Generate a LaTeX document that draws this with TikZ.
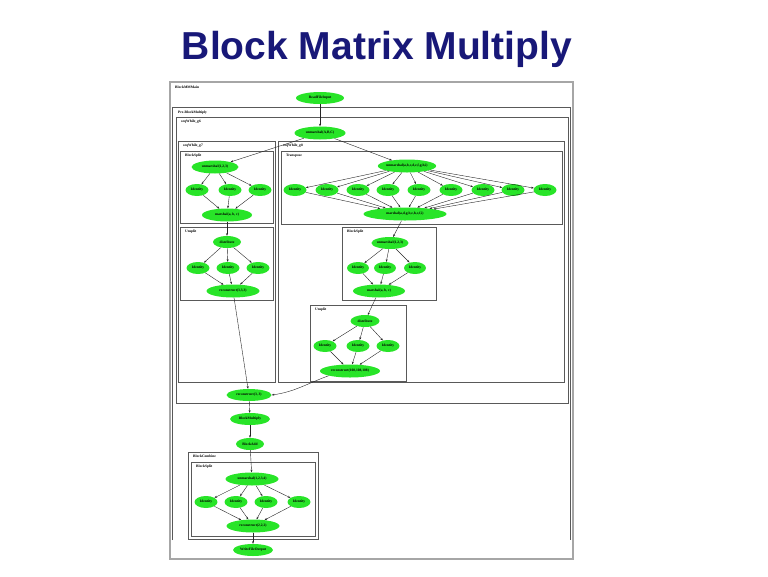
\documentclass[tikz,border=0pt]{standalone}
\usepackage{fontspec}
\setmainfont{Liberation Serif}
\newfontfamily\titlefont{Liberation Sans}
\usetikzlibrary{shapes.geometric,arrows.meta}
\definecolor{ggreen}{RGB}{40,228,40}
\definecolor{titleblue}{RGB}{24,24,120}
\newcommand{\gfont}{\fontsize{3.6}{4}\selectfont\bfseries}
\begin{document}
\begin{tikzpicture}[x=1pt,y=-1pt,
  gn/.style={ellipse, fill=ggreen, draw=none, inner sep=0pt, minimum height=12pt, font=\gfont},
  ed/.style={-{Stealth[length=2.6pt,width=2pt]}, line width=0.4pt, draw=black!85},
  box/.style={draw=black!65, line width=0.7pt},
  blab/.style={anchor=north west, inner sep=0pt, font=\gfont}]
\useasboundingbox (0,0) rectangle (768,576);
\node[anchor=base, font=\titlefont\bfseries\fontsize{39}{45}\selectfont, text=titleblue] (title) at (377,59) {Block Matrix Multiply};

% frames
\draw[draw=black!35, line width=1.4pt] (170,82) rectangle (573,559);
\node[blab] (la) at (175,86) {BlockMMMain};
\draw[box] (172,540) -- (172,107) -- (570,107) -- (570,540);
\node[blab] (lb) at (178,111) {Pre-BlockMultiply};
\draw[box] (176,117) rectangle (568,403);
\node[blab] (lc) at (181,120) {seqWhile\_g6};
\draw[box] (178,141) rectangle (275,382);
\node[blab] (ld) at (183,144) {seqWhile\_g7};
\draw[box] (180,151) rectangle (273,223);
\node[blab] (le) at (185,154) {BlockSplit};
\draw[box] (180,227) rectangle (273,300);
\node[blab] (lh) at (185,230) {Unsplit};
\draw[box] (278,141) rectangle (564,382);
\node[blab] (lf) at (283,144) {seqWhile\_g8};
\draw[box] (281,151) rectangle (562,224);
\node[blab] (lg) at (286,154) {Transpose};
\draw[box] (342,227) rectangle (436,300);
\node[blab] (li) at (347,230) {BlockSplit};
\draw[box] (310,305) rectangle (406,381);
\node[blab] (lj) at (315,308) {Unsplit};
\draw[box] (188,452) rectangle (318,539);
\node[blab] (lk) at (193,455) {BlockCombine};
\draw[box] (191,462) rectangle (315,536);
\node[blab] (ll) at (196,465) {BlockSplit};

% nodes
\node[gn, minimum width=48pt] (n0) at (320,98) {ReadFileInput};
\node[gn, minimum width=51pt, minimum height=13pt] (n1) at (320,133) {unmarshal(A,B,C)};

\node[gn, minimum width=47pt, minimum height=13pt] (e0) at (215,167) {unmarshal(1,2,3)};
\node[gn, minimum width=23pt] (e1) at (197,190) {Identity};
\node[gn, minimum width=23pt] (e2) at (230,190) {Identity};
\node[gn, minimum width=23pt] (e3) at (260,190) {Identity};
\node[gn, minimum width=50pt, minimum height=13pt] (e4) at (227,215) {marshal(a, b, c)};

\node[gn, minimum width=28pt] (h0) at (227,242) {distribute};
\node[gn, minimum width=23pt] (h1) at (198,268) {Identity};
\node[gn, minimum width=23pt] (h2) at (228,268) {Identity};
\node[gn, minimum width=23pt] (h3) at (258,268) {Identity};
\node[gn, minimum width=53pt, minimum height=13pt] (h4) at (233,291) {reconstruct(3,3,3)};

\node[gn, minimum width=58pt, minimum height=13pt] (g0) at (407,166) {unmarshal(a,b,c,d,e,f,g,h,i)};
\foreach \i/\x in {1/295,2/327,3/358,4/388,5/419,6/451,7/483,8/513,9/545}
  \node[gn, minimum width=23pt] (g\i) at (\x,190) {Identity};
\node[gn, minimum width=83pt, minimum height=13pt] (g10) at (405,214) {marshal(a,d,g,b,e,h,c,f,i)};

\node[gn, minimum width=33pt] (i0) at (390,243) {unmarshal(1,2,3)};
\node[gn, minimum width=22pt] (i1) at (358,268) {Identity};
\node[gn, minimum width=22pt] (i2) at (385,268) {Identity};
\node[gn, minimum width=22pt] (i3) at (415,268) {Identity};
\node[gn, minimum width=52pt, minimum height=13pt] (i4) at (379,291) {marshal(a, b, c)};

\node[gn, minimum width=29pt] (j0) at (365,321) {distribute};
\node[gn, minimum width=23pt] (j1) at (325,346) {Identity};
\node[gn, minimum width=23pt] (j2) at (358,346) {Identity};
\node[gn, minimum width=23pt] (j3) at (388,346) {Identity};
\node[gn, minimum width=60pt, minimum height=13pt] (j4) at (350,371) {reconstruct(108,108,108)};

\node[gn, minimum width=45pt] (r0) at (249,395) {reconstruct(3, 3)};
\node[gn, minimum width=40pt] (r1) at (250,419) {BlockMultiply};
\node[gn, minimum width=28pt] (r2) at (250,444) {BlockAdd};

\node[gn, minimum width=53pt, minimum height=13pt] (l0) at (252,479) {unmarshal(1,2,3,4)};
\node[gn, minimum width=23pt] (l1) at (206,502) {Identity};
\node[gn, minimum width=23pt] (l2) at (236,502) {Identity};
\node[gn, minimum width=23pt] (l3) at (266,502) {Identity};
\node[gn, minimum width=23pt] (l4) at (299,502) {Identity};
\node[gn, minimum width=53pt, minimum height=13pt] (l5) at (253,526) {reconstruct(2,2,2)};
\node[gn, minimum width=40pt] (fo) at (253,550) {WriteFileOutput};

% edges
\draw[ed] (n0) -- (n1);
\draw[ed] (n1) -- (e0);
\draw[ed] (n1) -- (g0);
\foreach \k in {1,2,3} {\draw[ed] (e0) -- (e\k); \draw[ed] (e\k) -- (e4);}
\draw[ed] (e4) -- (h0);
\foreach \k in {1,2,3} {\draw[ed] (h0) -- (h\k); \draw[ed] (h\k) -- (h4);}
\foreach \k in {1,...,9} {\draw[ed] (g0) -- (g\k); \draw[ed] (g\k) -- (g10);}
\draw[ed] (g10) -- (i0);
\foreach \k in {1,2,3} {\draw[ed] (i0) -- (i\k); \draw[ed] (i\k) -- (i4);}
\draw[ed] (i4) -- (j0);
\foreach \k in {1,2,3} {\draw[ed] (j0) -- (j\k); \draw[ed] (j\k) -- (j4);}
\draw[ed] (h4) -- (r0);
\draw[ed] (j4.south west) to[out=200,in=8] (r0.east);
\draw[ed] (r0) -- (r1);
\draw[ed] (r1) -- (r2);
\draw[ed] (r2) -- (l0);
\foreach \k in {1,2,3,4} {\draw[ed] (l0) -- (l\k); \draw[ed] (l\k) -- (l5);}
\draw[ed] (l5) -- (fo);
\end{tikzpicture}
\end{document}
